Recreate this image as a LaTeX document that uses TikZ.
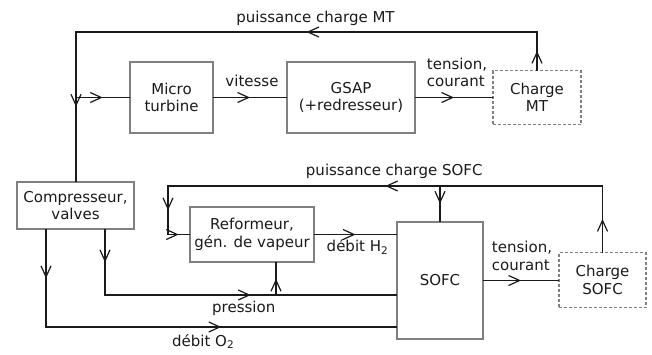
\documentclass[tikz,border=0pt]{standalone}
\usepackage{fontspec}
\setmainfont{DejaVu Sans}
\usepackage{xcolor}
\usetikzlibrary{arrows.meta,decorations.markings}
\definecolor{ink}{HTML}{1A1A1A}
\definecolor{frame}{HTML}{808080}
\tikzset{
  blk/.style={draw=frame,line width=1.2pt,align=center,inner sep=2pt,text=ink},
  loadbox/.style={blk,dash pattern=on 3pt off 2pt},
  wire/.style={ink,line width=1.2pt,line cap=rect,postaction={decorate},
    decoration={markings,mark=at position 0.5 with {\arrow[line cap=butt]{Straight Barb[length=11pt,width=10pt]}}}},
  lbl/.style={text=ink,align=left,inner sep=0pt}
}
\begin{document}
\begin{tikzpicture}[x=1pt,y=-1pt,font=\fontsize{15}{17.5}\selectfont]
\useasboundingbox (0,0) rectangle (652,354);
\node[blk,minimum width=117pt,minimum height=47pt] (comp) at (75.5,205.5) {Compresseur,\\valves};
\node[blk,minimum width=83pt,minimum height=71pt] (mt) at (171.5,97.5) {Micro\\turbine};
\node[blk,minimum width=128pt,minimum height=71pt] (gsap) at (351,97.5) {GSAP\\(+redresseur)};
\node[loadbox,minimum width=88pt,minimum height=54pt] (cmt) at (537,97.5) {Charge\\MT};
\node[blk,minimum width=124pt,minimum height=55pt] (ref) at (252,234.5) {Reformeur,\\gén. de vapeur};
\node[blk,minimum width=86pt,minimum height=117pt] (sofc) at (440,280.5) {SOFC};
\node[loadbox,minimum width=87pt,minimum height=55pt] (csofc) at (602.5,280) {Charge\\SOFC};
% boucle micro turbine
\coordinate (mtL) at (76,32);
\coordinate (mtR) at (cmt.north |- mtL);
\draw[wire] (cmt.north) -- (mtR);
\draw[wire] (mtR) -- node[lbl,anchor=base,yshift=10pt,xshift=9pt]{puissance charge MT} (mtL);
\draw[wire] (mtL) -- (mtL |- comp.north);
\draw[wire] (mtL |- mt.west) -- (mt.west);
\draw[wire] (mt.east) -- node[lbl,anchor=base,yshift=11pt,xshift=2pt]{vitesse} (gsap.west);
\draw[wire] (gsap.east) -- node[lbl,anchor=south,yshift=10pt,xshift=3pt]{tension,\\courant} (cmt.west);
% boucle SOFC
\coordinate (sfL) at (168,186);
\coordinate (sfR) at (csofc.north |- sfL);
\draw[wire] (csofc.north) -- (sfR);
\draw[wire] (sfR) -- node[lbl,anchor=base,yshift=11pt,xshift=9pt]{puissance charge SOFC} (sfL);
\draw[wire] (sfL) -- (sfL |- ref.west);
\draw[wire] (sfL |- ref.west) -- (ref.west);
\draw[wire] (sofc.north |- sfL) -- (sofc.north);
\draw[wire] (ref.east) -- node[lbl,anchor=base,yshift=-17pt,xshift=2pt]{débit H\textsubscript{2}} (ref.east -| sofc.west);
\draw[wire] (sofc.east) -- node[lbl,anchor=south,yshift=9.5pt,xshift=1pt]{tension,\\courant} (sofc.east -| csofc.west);
% sorties compresseur
\coordinate (oA) at (46,327);
\coordinate (pA) at (105,295);
\coordinate (pB) at (276,295);
\draw[wire] (oA |- comp.south) -- (oA);
\draw[wire] (oA) -- node[lbl,anchor=base,yshift=-19pt,xshift=-18pt]{débit O\textsubscript{2}} (oA -| sofc.west);
\draw[wire] (pA |- comp.south) -- (pA);
\draw[wire] (pA) -- node[lbl,anchor=base,yshift=-17pt,xshift=-7pt]{pression} (pA -| sofc.west);
\draw[wire] (pB) -- (pB |- ref.south);
\end{tikzpicture}
\end{document}
